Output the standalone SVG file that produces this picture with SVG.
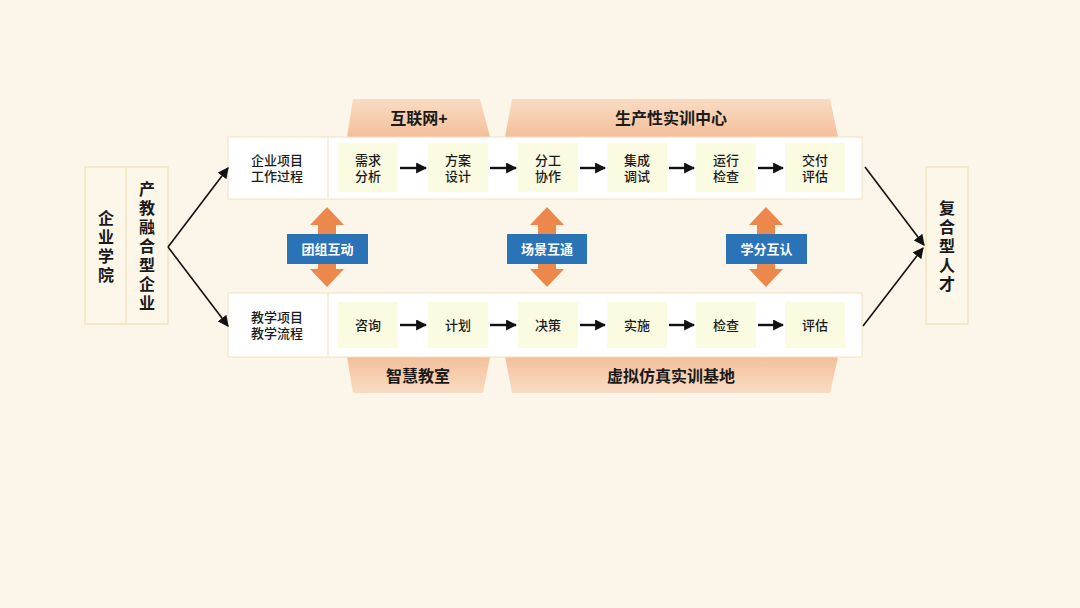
<svg xmlns="http://www.w3.org/2000/svg" width="1080" height="608" viewBox="0 0 1080 608">
<defs>
<linearGradient id="gt" x1="0" y1="0" x2="0" y2="1">
<stop offset="0" stop-color="#f9dcc3"/>
<stop offset="1" stop-color="#f4bf9a"/>
</linearGradient>
<linearGradient id="gb" x1="0" y1="1" x2="0" y2="0">
<stop offset="0" stop-color="#f9dcc3"/>
<stop offset="1" stop-color="#f4bf9a"/>
</linearGradient>
<marker id="ah" viewBox="0 0 10 10" refX="9" refY="5" markerWidth="11" markerHeight="11" markerUnits="userSpaceOnUse" orient="auto">
<path d="M0,0 L10,5 L0,10 z" fill="#111"/>
</marker>
<marker id="ah2" viewBox="0 0 10 10" refX="9" refY="5" markerWidth="11" markerHeight="11" markerUnits="userSpaceOnUse" orient="auto">
<path d="M0,0 L10,5 L0,10 z" fill="#111"/>
</marker>
<path id="dbl" d="M0,-40 L17,-22 L9,-22 L9,22 L17,22 L0,40 L-17,22 L-9,22 L-9,-22 L-17,-22 z" fill="#ec884b"/>
</defs>
<style>
text{font-family:"Liberation Sans","Noto Sans CJK SC",sans-serif;fill:#1a1a1a}
.vt{font-size:16px;font-weight:700;text-anchor:middle}
.lb{font-size:13px;font-weight:500;text-anchor:middle}
.st{font-size:13px;font-weight:500;text-anchor:middle}
.tz{font-size:16px;font-weight:700;text-anchor:middle}
.bl{font-size:13px;font-weight:700;text-anchor:middle;fill:#ffffff}
.frame{fill:#ffffff;stroke:#f0e2bd;stroke-width:1}
.side{fill:#fdf7ea;stroke:#eedfb6;stroke-width:1.2}
.step{fill:#fbfbe1}
.blue{fill:#2a73b6}
.ln{stroke:#111;stroke-width:1.6;fill:none}
.sa{stroke:#111;stroke-width:2.4;fill:none}
</style>
<rect width="1080" height="608" fill="#fcf5ea"/>

<g id="trap-top-1"><path d="M353,99 L480,99 L490,137 L347,137 z" fill="url(#gt)"/><text class="tz" x="419" y="124">互联网+</text></g>
<g id="trap-top-2"><path d="M512,99 L830,99 L838,137 L505,137 z" fill="url(#gt)"/><text class="tz" x="671" y="124">生产性实训中心</text></g>
<g id="trap-bot-1"><path d="M347,357 L490,357 L483,393 L353,393 z" fill="url(#gb)"/><text class="tz" x="418" y="382">智慧教室</text></g>
<g id="trap-bot-2"><path d="M505,357 L838,357 L830,393 L512,393 z" fill="url(#gb)"/><text class="tz" x="671" y="382">虚拟仿真实训基地</text></g>

<g id="left">
<rect class="side" x="85" y="167" width="83" height="157"/>
<line x1="126" y1="167" x2="126" y2="324" stroke="#eedfb6" stroke-width="1.2"/>
<text class="vt"><tspan x="106" y="224">企</tspan><tspan x="106" y="243">业</tspan><tspan x="106" y="262">学</tspan><tspan x="106" y="281">院</tspan></text>
<text class="vt"><tspan x="147" y="195">产</tspan><tspan x="147" y="214">教</tspan><tspan x="147" y="233">融</tspan><tspan x="147" y="252">合</tspan><tspan x="147" y="271">型</tspan><tspan x="147" y="290">企</tspan><tspan x="147" y="309">业</tspan></text>
</g>

<g id="right">
<rect class="side" x="926" y="167" width="42" height="157"/>
<text class="vt"><tspan x="947" y="214">复</tspan><tspan x="947" y="233">合</tspan><tspan x="947" y="252">型</tspan><tspan x="947" y="271">人</tspan><tspan x="947" y="290">才</tspan></text>
</g>

<g id="row-top">
<rect class="frame" x="228" y="137" width="634" height="62"/>
<line x1="328" y1="137" x2="328" y2="199" stroke="#f0e2bd"/>
<text class="lb"><tspan x="277" y="165">企业项目</tspan><tspan x="277" y="181">工作过程</tspan></text>
</g>
<g id="row-bottom">
<rect class="frame" x="228" y="293" width="634" height="64"/>
<line x1="328" y1="293" x2="328" y2="357" stroke="#f0e2bd"/>
<text class="lb"><tspan x="277" y="322">教学项目</tspan><tspan x="277" y="338">教学流程</tspan></text>
</g>

<g id="t1"><rect class="step" x="338" y="143" width="60" height="49"/><text class="st"><tspan x="368" y="165">需求</tspan><tspan x="368" y="181">分析</tspan></text></g>
<g id="t2"><rect class="step" x="428" y="143" width="60" height="49"/><text class="st"><tspan x="458" y="165">方案</tspan><tspan x="458" y="181">设计</tspan></text></g>
<g id="t3"><rect class="step" x="518" y="143" width="60" height="49"/><text class="st"><tspan x="548" y="165">分工</tspan><tspan x="548" y="181">协作</tspan></text></g>
<g id="t4"><rect class="step" x="607" y="143" width="60" height="49"/><text class="st"><tspan x="637" y="165">集成</tspan><tspan x="637" y="181">调试</tspan></text></g>
<g id="t5"><rect class="step" x="696" y="143" width="60" height="49"/><text class="st"><tspan x="726" y="165">运行</tspan><tspan x="726" y="181">检查</tspan></text></g>
<g id="t6"><rect class="step" x="785" y="143" width="60" height="49"/><text class="st"><tspan x="815" y="165">交付</tspan><tspan x="815" y="181">评估</tspan></text></g>

<g id="b1"><rect class="step" x="338" y="302" width="60" height="46"/><text class="st" x="368" y="330">咨询</text></g>
<g id="b2"><rect class="step" x="428" y="302" width="60" height="46"/><text class="st" x="458" y="330">计划</text></g>
<g id="b3"><rect class="step" x="518" y="302" width="60" height="46"/><text class="st" x="548" y="330">决策</text></g>
<g id="b4"><rect class="step" x="607" y="302" width="60" height="46"/><text class="st" x="637" y="330">实施</text></g>
<g id="b5"><rect class="step" x="696" y="302" width="60" height="46"/><text class="st" x="726" y="330">检查</text></g>
<g id="b6"><rect class="step" x="785" y="302" width="60" height="46"/><text class="st" x="815" y="330">评估</text></g>

<g id="m1"><use href="#dbl" x="327" y="247"/><rect class="blue" x="287" y="234" width="81" height="30"/><text class="bl" x="327.5" y="254">团组互动</text></g>
<g id="m2"><use href="#dbl" x="547" y="247"/><rect class="blue" x="507" y="234" width="80" height="30"/><text class="bl" x="547" y="254">场景互通</text></g>
<g id="m3"><use href="#dbl" x="766" y="247"/><rect class="blue" x="726" y="234" width="81" height="30"/><text class="bl" x="766.5" y="254">学分互认</text></g>

<g id="connectors">
<line class="sa" x1="400" y1="168" x2="426" y2="168" marker-end="url(#ah)"/>
<line class="sa" x1="490" y1="168" x2="516" y2="168" marker-end="url(#ah)"/>
<line class="sa" x1="580" y1="168" x2="605" y2="168" marker-end="url(#ah)"/>
<line class="sa" x1="669" y1="168" x2="694" y2="168" marker-end="url(#ah)"/>
<line class="sa" x1="758" y1="168" x2="783" y2="168" marker-end="url(#ah)"/>
<line class="sa" x1="400" y1="325" x2="426" y2="325" marker-end="url(#ah)"/>
<line class="sa" x1="490" y1="325" x2="516" y2="325" marker-end="url(#ah)"/>
<line class="sa" x1="580" y1="325" x2="605" y2="325" marker-end="url(#ah)"/>
<line class="sa" x1="669" y1="325" x2="694" y2="325" marker-end="url(#ah)"/>
<line class="sa" x1="758" y1="325" x2="783" y2="325" marker-end="url(#ah)"/>
<line class="ln" x1="168" y1="247" x2="228" y2="168" marker-end="url(#ah2)"/>
<line class="ln" x1="168" y1="247" x2="228" y2="326" marker-end="url(#ah2)"/>
<line class="ln" x1="865" y1="167" x2="924" y2="245" marker-end="url(#ah2)"/>
<line class="ln" x1="863" y1="326" x2="923" y2="248" marker-end="url(#ah2)"/>
</g>
</svg>
